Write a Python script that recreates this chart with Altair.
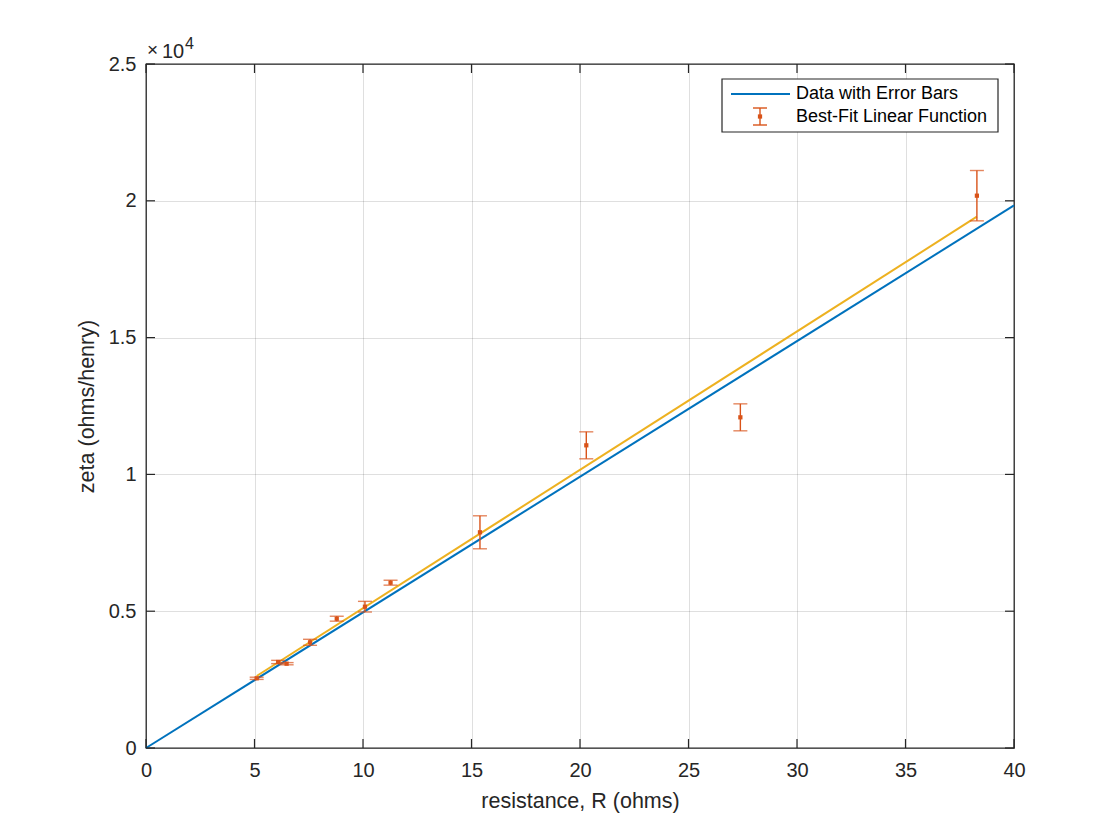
import altair as alt
import pandas as pd

# measured points (resistance in ohms, zeta in ohms/henry, error half-width)
resistance = [5.10, 6.09, 6.48, 7.56, 8.79, 10.09, 11.27, 15.39, 20.29, 27.39, 38.29]
zeta = [2547, 3143, 3081, 3863, 4726, 5165, 6042, 7884, 11063, 12086, 20187]
zeta_err = [40, 60, 40, 110, 90, 195, 90, 603, 493, 493, 920]

# theory line through the origin and the best-fit line, end points
theory_x = [0, 40]
theory_y = [0, 19830]
fit_x = [5.10, 38.29]
fit_y = [2631, 19419]

x_ticks = [0, 5, 10, 15, 20, 25, 30, 35, 40]
y_ticks = [0, 5000, 10000, 15000, 20000, 25000]

BLUE = "#0072BD"
ORANGE = "#D95319"
YELLOW = "#EDB120"
INK = "#262626"
FONT = "Liberation Sans"
W, H = 868, 684

pts = pd.DataFrame({"R": resistance, "zeta": zeta, "err": zeta_err})
theory = pd.DataFrame({"R": theory_x, "zeta": theory_y})
fit = pd.DataFrame({"R": fit_x, "zeta": fit_y})

xs = alt.Scale(domain=[0, 40], nice=False, zero=False)
ys = alt.Scale(domain=[0, 25000], nice=False, zero=False)

x_axis = alt.Axis(values=x_ticks, grid=True, ticks=False, domain=False, labelFlush=False,
                  labelPadding=12, titlePadding=10, title="resistance, R (ohms)")
y_axis = alt.Axis(values=y_ticks, grid=True, ticks=False, domain=False, labelFlush=False,
                  labelExpr="datum.value / 10000 + ''", labelPadding=10,
                  titlePadding=10, title="zeta (ohms/henry)")

# frame with axes and grid
frame = alt.Chart(theory).mark_line(opacity=0).encode(
    x=alt.X("R:Q", scale=xs, axis=x_axis),
    y=alt.Y("zeta:Q", scale=ys, axis=y_axis),
)

theory_line = alt.Chart(theory).mark_line(color=BLUE, strokeWidth=2).encode(
    x=alt.X("R:Q", scale=xs), y=alt.Y("zeta:Q", scale=ys)
)
fit_line = alt.Chart(fit).mark_line(color=YELLOW, strokeWidth=2).encode(
    x=alt.X("R:Q", scale=xs), y=alt.Y("zeta:Q", scale=ys)
)

err_base = alt.Chart(pts).transform_calculate(
    lo="datum.zeta - datum.err", hi="datum.zeta + datum.err"
)
bars = err_base.mark_rule(color=ORANGE, strokeWidth=1.4).encode(
    x=alt.X("R:Q", scale=xs), y=alt.Y("lo:Q", scale=ys), y2="hi:Q"
)
cap_lo = err_base.mark_tick(color=ORANGE, orient="horizontal", size=14, thickness=1.4).encode(
    x=alt.X("R:Q", scale=xs), y=alt.Y("lo:Q", scale=ys)
)
cap_hi = err_base.mark_tick(color=ORANGE, orient="horizontal", size=14, thickness=1.4).encode(
    x=alt.X("R:Q", scale=xs), y=alt.Y("hi:Q", scale=ys)
)
dots = alt.Chart(pts).mark_square(color=ORANGE, size=18, opacity=1).encode(
    x=alt.X("R:Q", scale=xs), y=alt.Y("zeta:Q", scale=ys)
)

# inward ticks on all four sides
xt = pd.DataFrame({"R": x_ticks})
yt = pd.DataFrame({"zeta": y_ticks})
tick_b = alt.Chart(xt).mark_rule(color=INK, strokeWidth=1.2).encode(
    x=alt.X("R:Q", scale=xs), y=alt.value(H), y2=alt.value(H - 9))
tick_t = alt.Chart(xt).mark_rule(color=INK, strokeWidth=1.2).encode(
    x=alt.X("R:Q", scale=xs), y=alt.value(0), y2=alt.value(9))
tick_l = alt.Chart(yt).mark_rule(color=INK, strokeWidth=1.2).encode(
    y=alt.Y("zeta:Q", scale=ys), x=alt.value(0), x2=alt.value(9))
tick_r = alt.Chart(yt).mark_rule(color=INK, strokeWidth=1.2).encode(
    y=alt.Y("zeta:Q", scale=ys), x=alt.value(W), x2=alt.value(W - 9))

one = pd.DataFrame({"a": [0]})

# exponent label
exp_x = alt.Chart(one).mark_text(text="×", font=FONT, fontSize=19, color=INK,
                                 align="left", baseline="alphabetic").encode(
    x=alt.value(1), y=alt.value(-8))
exp_10 = alt.Chart(one).mark_text(text="10", font=FONT, fontSize=20, color=INK,
                                  align="left", baseline="alphabetic").encode(
    x=alt.value(16), y=alt.value(-6))
exp_4 = alt.Chart(one).mark_text(text="4", font=FONT, fontSize=16, color=INK,
                                 align="left", baseline="alphabetic").encode(
    x=alt.value(39), y=alt.value(-15))

# legend box (labels as in the original figure)
leg_box = alt.Chart(one).mark_rect(fill="white", stroke=INK, strokeWidth=1.2).encode(
    x=alt.value(576), x2=alt.value(852), y=alt.value(15), y2=alt.value(68))
leg_line = alt.Chart(one).mark_rule(color=BLUE, strokeWidth=2).encode(
    x=alt.value(585), x2=alt.value(644), y=alt.value(30))
leg_bar = alt.Chart(one).mark_rule(color=ORANGE, strokeWidth=1.4).encode(
    x=alt.value(614), y=alt.value(44), y2=alt.value(61))
leg_cap1 = alt.Chart(one).mark_rule(color=ORANGE, strokeWidth=1.4).encode(
    x=alt.value(607), x2=alt.value(621), y=alt.value(44))
leg_cap2 = alt.Chart(one).mark_rule(color=ORANGE, strokeWidth=1.4).encode(
    x=alt.value(607), x2=alt.value(621), y=alt.value(61))
leg_dot = alt.Chart(one).mark_square(color=ORANGE, size=18, opacity=1).encode(
    x=alt.value(614), y=alt.value(52.5))
leg_t1 = alt.Chart(one).mark_text(text="Data with Error Bars", font=FONT, fontSize=18,
                                  color="black", align="left", baseline="middle").encode(
    x=alt.value(650), y=alt.value(30))
leg_t2 = alt.Chart(one).mark_text(text="Best-Fit Linear Function", font=FONT, fontSize=18,
                                  color="black", align="left", baseline="middle").encode(
    x=alt.value(650), y=alt.value(53))

chart = alt.layer(
    frame, theory_line, fit_line, bars, cap_lo, cap_hi, dots,
    tick_b, tick_t, tick_l, tick_r,
    exp_x, exp_10, exp_4,
    leg_box, leg_line, leg_bar, leg_cap1, leg_cap2, leg_dot, leg_t1, leg_t2,
).properties(
    width=W, height=H,
    autosize=alt.AutoSizeParams(type="none"),
    padding={"left": 138, "top": 56, "right": 80, "bottom": 70},
).configure_view(
    stroke=INK, strokeWidth=1.3
).configure_axis(
    labelFont=FONT, labelFontSize=20, labelColor=INK,
    titleFont=FONT, titleFontSize=21.5, titleColor=INK, titleFontWeight="normal",
    gridColor=INK, gridOpacity=0.15, gridWidth=1,
)

chart.save("out.html", embed_options={"renderer": "svg", "actions": False})
